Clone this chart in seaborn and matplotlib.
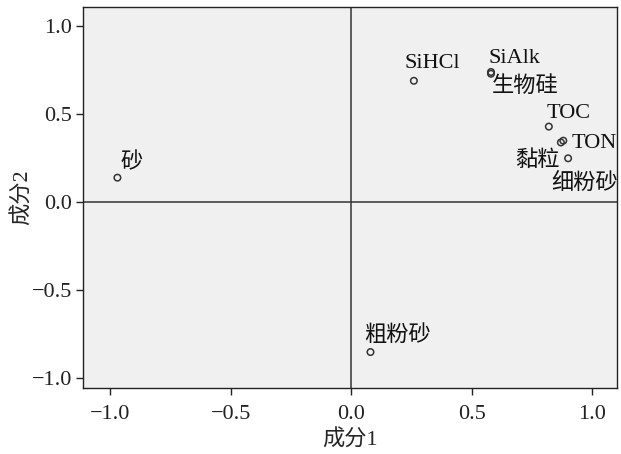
import pandas as pd
import seaborn as sns
import matplotlib.pyplot as plt

# Component loadings
variables = ['砂', 'SiHCl', 'SiAlk', '生物硅', 'TOC', 'TON', '黏粒', '细粉砂', '粗粉砂']
comp1 = [-0.97, 0.26, 0.58, 0.58, 0.82, 0.88, 0.87, 0.90, 0.08]
comp2 = [0.14, 0.69, 0.74, 0.73, 0.43, 0.35, 0.34, 0.25, -0.85]

df = pd.DataFrame({'var': variables, 'c1': comp1, 'c2': comp2})

sns.set_style('ticks')
plt.rcParams['font.family'] = ['Liberation Serif', 'Noto Sans CJK SC']
plt.rcParams['axes.unicode_minus'] = True

fig = plt.figure(figsize=(6.21, 4.54), dpi=100)
ax = fig.add_axes([0.134, 0.145, 0.860, 0.840])
ax.set_facecolor('#f0f0f0')

# reference lines
ax.axhline(0, color='#333333', lw=1.1, zorder=1)
ax.axvline(0, color='#333333', lw=1.1, zorder=1)

sns.scatterplot(data=df, x='c1', y='c2', ax=ax, s=22, marker='o',
                facecolor='none', edgecolor='#333333', linewidth=1.1, zorder=3)

# label offsets in pixels (dx, dy, ha)
offsets = {
    '砂': (3, 15, 'left'),
    'SiHCl': (-9, 17, 'left'),
    'SiAlk': (-2, 13, 'left'),
    '生物硅': (1, -13, 'left'),
    'TOC': (-2, 13, 'left'),
    'TON': (8, -3, 'left'),
    '黏粒': (-1, -18, 'right'),
    '细粉砂': (-17, -25, 'left'),
    '粗粉砂': (-6, 16, 'left'),
}
for name, x, y in zip(variables, comp1, comp2):
    dx, dy, ha = offsets[name]
    ax.annotate(name, (x, y), xytext=(dx, dy), textcoords='offset pixels',
                ha=ha, va='center', fontsize=16, color='#111111')

ax.set_xlim(-1.112, 1.104)
ax.set_ylim(-1.055, 1.11)
ax.set_xticks([-1.0, -0.5, 0.0, 0.5, 1.0])
ax.set_yticks([-1.0, -0.5, 0.0, 0.5, 1.0])
ax.tick_params(direction='out', length=5, width=1, labelsize=16, colors='#222222')
ax.tick_params(axis='x', pad=7)
ax.tick_params(axis='y', pad=3)
for sp in ax.spines.values():
    sp.set_visible(True)
    sp.set_color('#222222')
    sp.set_linewidth(1)

ax.set_xlabel('成分1', fontsize=16, labelpad=4)
ax.set_ylabel('成分2', fontsize=16, labelpad=-1)

fig.savefig('out.png', dpi=100)
